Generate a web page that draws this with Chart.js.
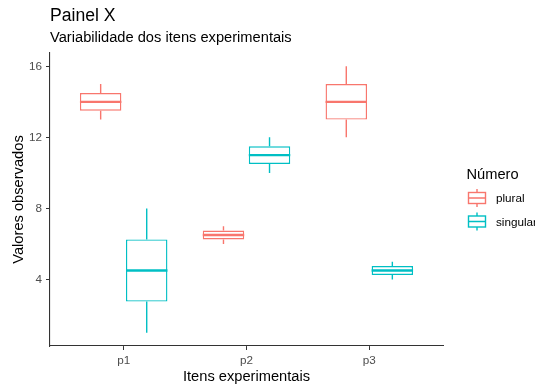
<!DOCTYPE html>
<html>
<head>
<meta charset="utf-8">
<script src="https://cdn.jsdelivr.net/npm/chart.js@4.4.1/dist/chart.umd.min.js"></script>
<style>
  body { margin: 0; background: #fff; }
  #wrap { width: 535px; height: 387px; }
</style>
</head>
<body>
<div id="wrap"><canvas id="chart" width="535" height="387"></canvas></div>
<script>
// categories and box stats (min, q1, median, q3, max)
const categories = ['p1', 'p2', 'p3']
const pluralMin = [13, 6, 12]
const pluralQ1 = [13.5, 6.25, 13]
const pluralMed = [14, 6.5, 14]
const pluralQ3 = [14.5, 6.75, 15]
const pluralMax = [15, 7, 16]
const singularMin = [1, 10, 4]
const singularQ1 = [2.75, 10.5, 4.25]
const singularMed = [4.5, 11, 4.5]
const singularQ3 = [6.25, 11.5, 4.75]
const singularMax = [8, 12, 5]
const yTicks = [4, 8, 12, 16]

const RED = '#F8766D'
const CYAN = '#00BFC4'
const FONT = "'Liberation Sans', Arial, sans-serif"
Chart.defaults.font.family = FONT

const series = [
    { label: 'plural', color: RED, min: pluralMin, q1: pluralQ1, med: pluralMed, q3: pluralQ3, max: pluralMax },
    { label: 'singular', color: CYAN, min: singularMin, q1: singularQ1, med: singularMed, q3: singularQ3, max: singularMax }
]

// whiskers + medians drawn on top of the floating bars (boxes)
const boxPlugin = {
    id: 'boxWhiskers',
    afterDatasetsDraw(chart) {
        const ctx = chart.ctx
        const y = chart.scales.y
        series.forEach((s, d) => {
            const meta = chart.getDatasetMeta(d)
            meta.data.forEach((el, i) => {
                const { x, width } = el.getProps(['x', 'width'], true)
                ctx.save()
                ctx.strokeStyle = s.color
                ctx.lineWidth = 1.4
                ctx.beginPath()
                ctx.moveTo(x, y.getPixelForValue(s.q3[i]))
                ctx.lineTo(x, y.getPixelForValue(s.max[i]))
                ctx.moveTo(x, y.getPixelForValue(s.q1[i]))
                ctx.lineTo(x, y.getPixelForValue(s.min[i]))
                ctx.stroke()
                ctx.lineWidth = 2.4
                ctx.beginPath()
                ctx.moveTo(x - width / 2, y.getPixelForValue(s.med[i]))
                ctx.lineTo(x + width / 2, y.getPixelForValue(s.med[i]))
                ctx.stroke()
                ctx.restore()
            })
        })
    }
}

// ggplot-like legend on the right
const legendPlugin = {
    id: 'boxLegend',
    afterDraw(chart) {
        const ctx = chart.ctx
        const lx = chart.chartArea.right + 24
        ctx.save()
        ctx.fillStyle = '#000'
        ctx.textBaseline = 'middle'
        ctx.textAlign = 'left'
        ctx.font = '14.67px ' + FONT
        ctx.fillText('Número', lx - 0.5, 174.5)
        series.forEach((s, i) => {
            const cy = 198 + i * 23.5
            const cx = lx + 10
            ctx.strokeStyle = s.color
            ctx.lineWidth = 1.4
            ctx.fillStyle = '#fff'
            ctx.fillRect(cx - 8.5, cy - 5.5, 17, 11)
            ctx.strokeRect(cx - 8.5, cy - 5.5, 17, 11)
            ctx.beginPath()
            ctx.moveTo(cx - 8.5, cy); ctx.lineTo(cx + 8.5, cy)
            ctx.moveTo(cx, cy - 5.5); ctx.lineTo(cx, cy - 9)
            ctx.moveTo(cx, cy + 5.5); ctx.lineTo(cx, cy + 9)
            ctx.stroke()
            ctx.fillStyle = '#000'
            ctx.font = '11.7px ' + FONT
            ctx.fillText(s.label, lx + 29, cy + 0.8)
        })
        ctx.restore()
    }
}

new Chart(document.getElementById('chart'), {
    type: 'bar',
    data: {
        datasets: series.map(s => ({
            label: s.label,
            data: categories.map((c, i) => ({ x: i + 1, y: [s.q1[i], s.q3[i]] })),
            backgroundColor: '#fff',
            borderColor: s.color,
            borderWidth: 1.4,
            borderSkipped: false,
            categoryPercentage: 0.75,
            barPercentage: 0.9
        }))
    },
    options: {
        responsive: false,
        animation: false,
        layout: { padding: { left: 0, right: 92, top: 0, bottom: 0 } },
        plugins: {
            legend: { display: false },
            tooltip: { enabled: false },
            title: {
                display: true, text: 'Painel X', align: 'start', fullSize: false,
                color: '#000', font: { size: 17.6, weight: 'normal' },
                padding: { top: 6, bottom: 0 }
            },
            subtitle: {
                display: true, text: 'Variabilidade dos itens experimentais', align: 'start', fullSize: false,
                color: '#000', font: { size: 14.67, weight: 'normal' },
                padding: { top: 1.7, bottom: 6.6 }
            }
        },
        scales: {
            x: {
                type: 'linear',
                min: 0.4, max: 3.6,
                offset: false,
                afterBuildTicks: scale => { scale.ticks = categories.map((c, i) => ({ value: i + 1 })) },
                afterFit: scale => { scale.height = 41 },
                ticks: {
                    color: '#4D4D4D', font: { size: 11.7 }, padding: 3.5,
                    callback: v => categories[v - 1]
                },
                grid: { display: true, offset: false, drawOnChartArea: false, tickLength: 4, color: '#333' },
                border: { display: true, color: '#333', width: 1.1 },
                title: {
                    display: true, text: 'Itens experimentais', color: '#000',
                    font: { size: 14.67 }, padding: { top: 0, bottom: 1.5 }
                }
            },
            y: {
                min: 0.25, max: 16.75,
                afterBuildTicks: scale => { scale.ticks = yTicks.map(v => ({ value: v })) },
                afterFit: scale => { scale.width = 50 },
                ticks: { color: '#4D4D4D', font: { size: 11.7 }, padding: 4 },
                grid: { display: true, drawOnChartArea: false, tickLength: 4, color: '#333' },
                border: { display: true, color: '#333', width: 1.1 },
                title: {
                    display: true, text: 'Valores observados', color: '#000',
                    font: { size: 14.67 }, padding: { top: 10.2, bottom: 0 }
                }
            }
        }
    },
    plugins: [boxPlugin, legendPlugin]
})
</script>
</body>
</html>
